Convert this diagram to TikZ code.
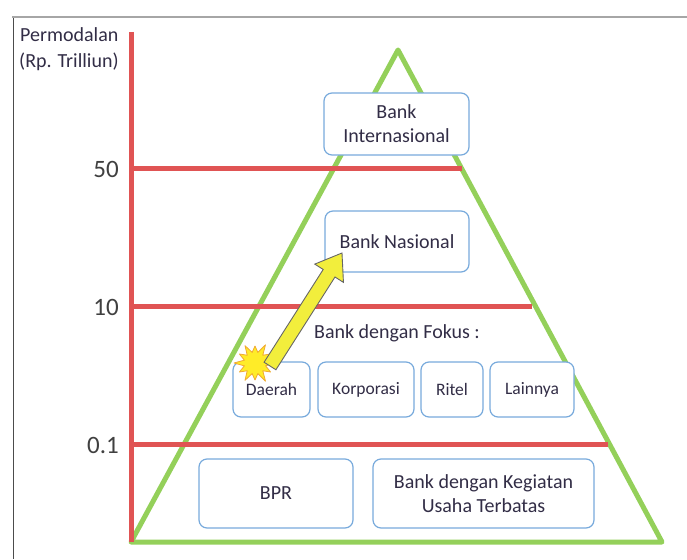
\documentclass[tikz,border=0pt]{standalone}
\usepackage{fontspec}
\setmainfont{Carlito}
\definecolor{axisred}{RGB}{224,84,84}
\definecolor{pyrgreen}{RGB}{148,208,90}
\definecolor{boxblue}{RGB}{120,170,220}
\definecolor{txt}{RGB}{50,45,70}
\definecolor{arrowfill}{RGB}{242,238,60}
\definecolor{starfill}{RGB}{255,236,40}
\definecolor{starline}{RGB}{240,170,50}
\begin{document}
\begin{tikzpicture}[x=1pt,y=-1pt,
  redline/.style={line width=5pt,draw=axisred},
  greenline/.style={line width=5pt,draw=pyrgreen,line join=round},
  levbox/.style={draw=boxblue,line width=1.2pt,fill=white,rounded corners=8pt,
     text=txt,align=center,inner sep=0pt},
  bigtxt/.style={font=\fontsize{20}{24}\selectfont},
  smalltxt/.style={font=\fontsize{17.5}{22}\selectfont},
  ticklabel/.style={font=\fontsize{25}{28}\selectfont,text=black!75,anchor=east,inner sep=0pt},
  axislabel/.style={font=\fontsize{20}{22}\selectfont,text=txt,anchor=west,inner sep=0pt}]
\useasboundingbox (0,0) rectangle (687,559);
% frame
\draw[line width=1pt,draw=black!70] (13,17) -- (13,559);
\draw[line width=1.6pt,draw=black!35] (12,17) -- (687,17);
% pyramid
\draw[greenline] (398,50) -- (662,542) -- (131,542) -- cycle;
% axis
\draw[redline] (131,32) -- (131,542);
\draw[redline] (131,168) -- (462,168);
\draw[redline] (131,306) -- (532,306);
\draw[redline] (131,444) -- (608,444);
% labels
\node[axislabel] (perm) at (20,35) {Permodalan};
\node[axislabel] (rp) at (19,62) {(Rp. Trilliun)};
\node[ticklabel] (l50) at (119,169) {50};
\node[ticklabel] (l10) at (119,307) {10};
\node[ticklabel] (l01) at (119,445) {0.1};
% boxes
\node[levbox,bigtxt,minimum width=145pt,minimum height=62pt] (bi) at (396.5,124) {Bank\\Internasional};
\node[levbox,bigtxt,minimum width=144pt,minimum height=61pt] (bn) at (397,241.5) {Bank Nasional};
\node[text=txt,bigtxt,inner sep=0pt] (fokus) at (397,333) {Bank dengan Fokus :};
\node[levbox,smalltxt,minimum width=77pt,minimum height=55pt] (daerah) at (271.5,389.5) {Daerah};
\node[levbox,smalltxt,minimum width=96pt,minimum height=55pt] (korp) at (366,389.5) {Korporasi};
\node[levbox,smalltxt,minimum width=62pt,minimum height=55pt] (ritel) at (452,389.5) {Ritel};
\node[levbox,smalltxt,minimum width=84pt,minimum height=55pt] (lain) at (532,389.5) {Lainnya};
\node[levbox,bigtxt,minimum width=154pt,minimum height=69pt] (bpr) at (276,493.5) {BPR};
\node[levbox,bigtxt,minimum width=221pt,minimum height=69pt] (terb) at (483.5,493.5) {Bank dengan Kegiatan\\Usaha Terbatas};
% starburst
\begin{scope}[shift={(255,363)}]
\draw[fill=starfill,draw=starline,line width=0.8pt,line join=round]
  (0:19) -- (15:11) -- (30:18) -- (45:11) -- (60:21) -- (75:11) -- (90:17) -- (105:11)
  -- (120:20) -- (135:11) -- (150:18) -- (165:11) -- (180:21) -- (195:11) -- (210:18)
  -- (225:11) -- (240:20) -- (255:11) -- (270:17) -- (285:11) -- (300:21) -- (315:11)
  -- (330:18) -- (345:11) -- cycle;
\end{scope}
% arrow
\begin{scope}[shift={(270,366)},rotate=57.5]
\draw[fill=arrowfill,draw=black!60,line width=0.9pt,line join=miter]
  (0,-7) -- (110,-7) -- (110,-17) -- (134,0) -- (110,17) -- (110,7) -- (0,7) -- cycle;
\end{scope}
\end{tikzpicture}
\end{document}
